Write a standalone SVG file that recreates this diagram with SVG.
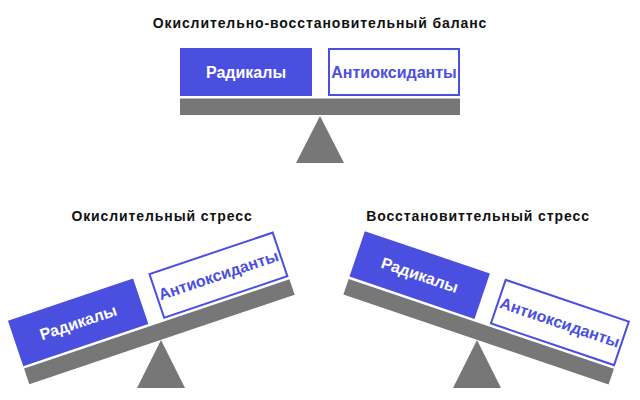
<svg xmlns="http://www.w3.org/2000/svg" width="640" height="400" viewBox="0 0 640 400">
<style>
.title{font-family:"Liberation Sans",Arial,sans-serif;font-weight:bold;font-size:14px;letter-spacing:0.9px;fill:#111;text-anchor:middle}
.lbl{font-family:"Liberation Sans",Arial,sans-serif;font-weight:bold;font-size:16px;text-anchor:middle}
.rad{fill:#4a4fe0}
.radt{fill:#fff}
.ant{fill:#fff;stroke:#4a4fe0;stroke-width:2}
.antt{fill:#4a4fe0}
.beam{fill:#777}
.base{fill:#777}
</style>
<rect width="640" height="400" fill="#fff"/>

<text class="title" x="320" y="28">Окислительно-восстановительный баланс</text>
<text class="title" x="162" y="221">Окислительный стресс</text>
<text class="title" x="478" y="221">Восстановиттельный стресс</text>

<g id="balance-top">
  <polygon class="base" points="320,116 296,163 344,163"/>
  <g transform="translate(320,115)">
    <rect class="beam" x="-140" y="-16.5" width="280" height="16.5"/>
    <g id="top-radicals">
      <rect class="rad" x="-140" y="-67" width="132" height="48"/>
      <text class="lbl radt" x="-74" y="-37.5">Радикалы</text>
    </g>
    <g id="top-antioxidants">
      <rect class="ant" x="9" y="-66" width="130" height="46"/>
      <text class="lbl antt" x="74" y="-37.5">Антиоксиданты</text>
    </g>
  </g>
</g>

<g id="balance-oxidative">
  <polygon class="base" points="161,340 137,388 185,388"/>
  <g transform="translate(162,339.5) rotate(-18.6)">
    <rect class="beam" x="-140" y="-16.5" width="280" height="16.5"/>
    <g id="ox-radicals">
      <rect class="rad" x="-140" y="-67" width="132" height="48"/>
      <text class="lbl radt" x="-74" y="-37.5">Радикалы</text>
    </g>
    <g id="ox-antioxidants">
      <rect class="ant" x="9" y="-66" width="130" height="46"/>
      <text class="lbl antt" x="74" y="-37.5">Антиоксиданты</text>
    </g>
  </g>
</g>

<g id="balance-reductive">
  <polygon class="base" points="477,340 453,388 501,388"/>
  <g transform="translate(476,339.5) rotate(18.7)">
    <rect class="beam" x="-140" y="-16.5" width="280" height="16.5"/>
    <g id="red-radicals">
      <rect class="rad" x="-140" y="-67" width="132" height="48"/>
      <text class="lbl radt" x="-74" y="-37.5">Радикалы</text>
    </g>
    <g id="red-antioxidants">
      <rect class="ant" x="9" y="-66" width="130" height="46"/>
      <text class="lbl antt" x="74" y="-37.5">Антиоксиданты</text>
    </g>
  </g>
</g>
</svg>
